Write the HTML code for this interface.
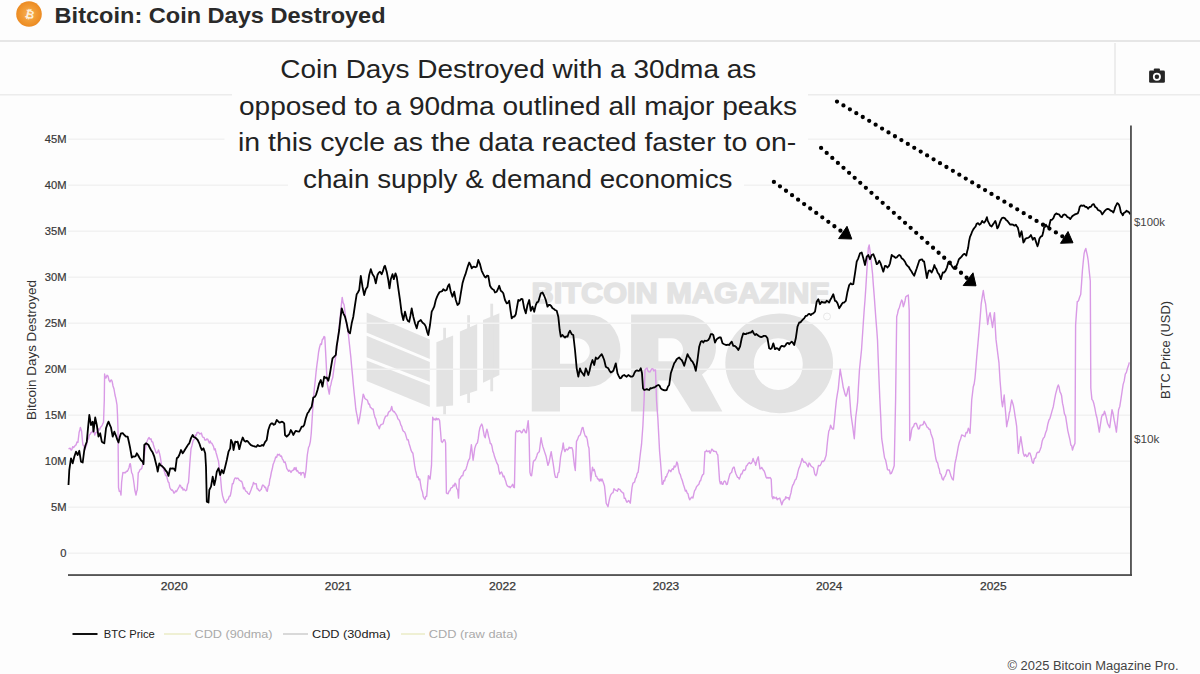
<!DOCTYPE html>
<html><head><meta charset="utf-8"><style>
html,body{margin:0;padding:0;background:#fdfdfd;width:1200px;height:674px;overflow:hidden}
svg{display:block;font-family:"Liberation Sans",sans-serif}
</style></head><body>
<svg width="1200" height="674" viewBox="0 0 1200 674">
<rect x="0" y="0" width="1200" height="674" fill="#fdfdfd"/>
<!-- header -->
<rect x="0" y="0" width="1200" height="40" fill="#fdfdfd"/>
<rect x="0" y="40" width="1200" height="2" fill="#e6e6e6"/>
<defs><radialGradient id="bg1" cx="50%" cy="50%" r="50%"><stop offset="0" stop-color="#f7b25a"/><stop offset="0.6" stop-color="#f19a33"/><stop offset="1" stop-color="#ec8b22"/></radialGradient></defs>
<circle cx="29" cy="14" r="12.8" fill="url(#bg1)"/>
<text x="0" y="0" transform="translate(28.7,18.2) rotate(14)" font-size="11.5" font-weight="700" fill="#fdf1de" text-anchor="middle">&#x20BF;</text>
<text x="54.6" y="22.5" font-size="22.4" font-weight="700" fill="#2a2a2a" textLength="331" lengthAdjust="spacingAndGlyphs">Bitcoin: Coin Days Destroyed</text>
<!-- toolbar -->
<rect x="1114" y="43" width="2" height="52" fill="#ededed"/>
<rect x="0" y="94" width="1200" height="1.5" fill="#ececec"/>
<g fill="#262626">
<rect x="1149.1" y="70.6" width="15.8" height="12.2" rx="1.4"/>
<rect x="1153.9" y="68.4" width="6" height="3" rx="0.8"/>
</g>
<circle cx="1156.9" cy="76.8" r="4" fill="#fff"/>
<circle cx="1156.9" cy="76.8" r="2.2" fill="#262626"/>

<!-- WATERMARK -->
<g id="wm">
<g fill="#e3e3e3">
<polygon points="366.6,312.6 429.8,339.6 429.8,359 366.6,332.4"/>
<polygon points="366.6,335.8 429.8,362 429.8,381.7 366.6,357.2"/>
<polygon points="366.6,360.4 429.8,385.2 429.8,406.9 366.6,381"/>
<polygon points="436.4,342.2 453.1,335.5 453.1,405.5 436.4,406.8"/>
<rect x="443.2" y="327.8" width="2.8" height="86.7"/>
<polygon points="459.9,331.6 477.2,323.9 477.2,390.4 459.9,396.2"/>
<rect x="467.2" y="315.2" width="2.8" height="87.7"/>
<polygon points="483,320 499.4,313.3 499.4,375 483,382.7"/>
<rect x="490.3" y="303.7" width="2.8" height="87.6"/>
<text x="531.5" y="303" font-size="29.5" font-weight="700" stroke="#e3e3e3" stroke-width="1.6" stroke-linejoin="round" textLength="298.5" lengthAdjust="spacingAndGlyphs">BITCOIN MAGAZINE</text>
<path fill-rule="evenodd" d="M531.8,314.4 H588 A32.5,36.25 0 0 1 588,386.9 H560 V411.5 H531.8 Z M560,338.3 H577 A12.8,12.75 0 0 1 577,363.8 H560 Z"/>
<path fill-rule="evenodd" d="M631.1,314.4 H683 A32.5,33 0 0 1 702,374.5 L722.3,411.5 H691.5 L672,380.4 H658.4 V411.5 H631.1 Z M658.4,338.3 H671.5 A11.5,11.5 0 0 1 671.5,361.3 H658.4 Z"/>
<path fill-rule="evenodd" d="M725.3,363.3 A53.9,49.9 0 1 0 833.1,363.3 A53.9,49.9 0 1 0 725.3,363.3 Z M753.8,364.1 A24.5,25.8 0 1 0 802.8,364.1 A24.5,25.8 0 1 0 753.8,364.1 Z"/>
<circle cx="827" cy="316.5" r="3.5" fill="none" stroke="#e8e8e8" stroke-width="1"/>
</g>
</g>
<!-- gridlines -->
<g id="grid" fill="#f2f2f2">
<rect x="68" y="138.5" width="1062" height="1.5"/>
<rect x="68" y="184.5" width="1062" height="1.5"/>
<rect x="68" y="230.5" width="1062" height="1.5"/>
<rect x="68" y="276.5" width="1062" height="1.5"/>
<rect x="68" y="322.5" width="1062" height="1.5"/>
<rect x="68" y="368.5" width="1062" height="1.5"/>
<rect x="68" y="414.5" width="1062" height="1.5"/>
<rect x="68" y="460.5" width="1062" height="1.5"/>
<rect x="68" y="506.5" width="1062" height="1.5"/>
<rect x="68" y="552.5" width="1062" height="1.5"/>
</g>


<!-- TRACES -->
<g id="traces">
<polyline points="68.5,448.8 69.3,448.5 70.2,448.2 71.0,450.0 71.8,449.8 72.7,446.6 73.5,447.5 74.3,446.8 75.2,445.3 76.0,445.0 77.0,442.0 77.9,442.5 79.1,432.5 79.8,430.0 80.4,427.5 81.6,431.3 82.2,438.1 82.9,445.0 83.8,445.6 84.8,450.0 85.7,447.2 86.6,445.0 87.5,440.2 88.5,438.8 89.3,435.1 90.2,434.3 91.0,432.5 92.0,432.6 92.9,430.0 93.8,431.0 94.8,435.0 95.7,432.6 96.6,432.5 97.5,431.2 98.5,428.8 99.5,429.9 100.4,427.5 101.3,426.6 102.3,425.0 102.9,423.3 103.5,422.5 104.3,400.0 104.6,374.0 105.3,377.9 106.0,378.0 107.0,375.2 108.0,376.0 109.0,380.4 110.0,382.0 110.8,380.2 111.5,380.0 112.2,381.6 113.0,386.0 114.0,389.0 115.0,395.0 116.0,399.2 117.0,405.0 117.5,415.0 118.0,430.0 118.5,487.5 119.3,491.3 120.2,491.2 121.0,495.0 121.6,482.5 122.2,477.5 122.9,472.5 123.8,472.8 124.8,472.5 125.6,472.7 126.5,471.2 127.3,471.3 128.2,469.6 129.1,467.5 129.8,463.9 130.4,463.8 131.6,472.5 132.6,474.5 133.5,480.0 134.2,485.0 134.8,490.0 136.0,495.0 136.7,491.3 137.3,490.0 138.3,472.5 139.1,472.0 139.8,470.0 140.7,469.1 141.6,468.8 142.6,464.9 143.5,462.5 144.2,456.9 144.8,451.3 145.7,447.2 146.6,442.5 147.4,440.6 148.3,438.4 149.1,437.5 150.1,439.3 151.0,438.8 151.8,441.7 152.7,441.9 153.5,445.0 154.3,447.8 155.2,450.1 156.0,452.5 156.8,453.2 157.7,451.8 158.5,450.0 159.4,452.9 160.4,457.5 161.4,464.4 162.3,467.5 163.1,467.6 164.0,470.5 164.8,472.5 165.6,475.6 166.5,475.3 167.3,478.8 168.1,481.7 169.0,482.8 169.8,487.5 170.6,489.0 171.5,490.2 172.3,490.0 173.1,491.1 174.0,493.2 174.8,492.5 175.6,490.9 176.5,491.6 177.3,490.0 178.1,488.7 179.0,487.0 179.8,485.0 180.6,485.7 181.5,488.0 182.3,487.5 183.1,490.1 184.0,489.1 184.8,490.0 185.7,490.7 186.6,490.0 187.6,484.5 188.5,482.5 189.2,473.1 189.8,463.8 191.0,448.8 191.9,445.9 192.9,441.3 193.7,439.8 194.6,439.1 195.4,435.0 196.2,435.5 197.1,432.5 197.9,432.5 198.7,432.5 199.6,434.0 200.4,433.8 201.4,433.1 202.3,436.3 203.1,437.4 204.0,437.4 204.8,440.0 206.0,440.0 206.8,438.9 207.7,439.1 208.5,441.3 209.3,443.0 210.2,441.0 211.0,443.1 211.8,443.2 212.7,444.8 213.5,446.3 214.3,449.9 215.2,448.8 216.0,452.5 216.8,455.2 217.7,458.6 218.5,461.3 219.4,468.8 220.4,476.3 221.6,490.0 222.6,495.9 223.5,498.8 224.3,501.3 225.2,502.7 226.0,502.5 226.8,500.4 227.7,499.7 228.5,498.8 229.3,496.1 230.2,496.1 231.0,492.5 231.7,488.1 232.3,483.8 233.2,483.7 234.1,480.0 234.9,478.2 235.8,477.9 236.6,478.8 237.4,478.1 238.3,478.5 239.1,480.0 239.9,480.4 240.8,481.2 241.6,481.3 242.6,484.1 243.5,488.8 244.3,487.6 245.2,490.1 246.0,491.3 246.8,491.6 247.7,493.2 248.5,493.8 249.3,494.3 250.2,492.0 251.0,490.0 251.8,487.6 252.7,485.5 253.5,482.5 254.4,483.9 255.4,483.8 256.2,483.7 257.1,488.7 257.9,488.8 258.7,490.3 259.6,491.1 260.4,490.0 261.2,489.5 262.1,486.2 262.9,485.0 263.9,485.8 264.8,487.5 265.6,487.2 266.5,490.6 267.3,491.3 268.2,486.4 269.1,485.0 269.8,479.5 270.4,477.5 271.4,472.0 272.3,468.8 273.1,464.5 274.0,462.3 274.8,460.0 275.7,457.0 276.6,457.5 277.6,454.3 278.5,455.0 279.4,454.3 280.4,456.3 281.4,456.0 282.3,458.8 283.2,460.1 284.1,462.5 285.1,461.9 286.0,465.0 286.8,468.6 287.7,469.7 288.5,471.3 289.3,470.3 290.2,471.1 291.0,472.5 291.8,471.1 292.7,470.3 293.5,470.0 294.3,467.7 295.2,469.7 296.0,467.5 296.8,471.1 297.7,470.7 298.5,472.5 299.3,473.3 300.2,472.5 301.0,475.0 301.8,472.6 302.7,472.7 303.5,472.5 304.1,474.1 304.8,477.5 306.0,470.0 306.6,462.5 307.3,455.0 308.5,447.5 309.4,445.7 310.4,441.3 311.2,433.8 312.0,421.4 312.8,409.0 313.6,396.6 314.4,388.3 315.3,380.1 316.1,371.8 316.9,365.2 317.8,358.6 318.6,352.0 319.5,347.5 320.5,343.9 321.4,344.5 322.3,339.6 323.1,338.9 324.0,336.5 324.8,337.1 326.0,359.4 326.6,371.8 327.3,384.2 328.3,389.3 329.3,394.1 330.1,387.3 331.0,384.2 331.8,380.2 332.7,377.8 333.5,371.8 334.3,366.0 335.2,360.2 336.0,354.4 337.2,344.5 338.4,334.6 339.2,326.3 340.1,318.1 340.9,309.8 341.5,303.6 342.2,297.4 343.1,302.6 344.1,304.8 345.0,312.2 345.9,319.7 346.7,325.5 347.6,328.7 348.4,334.6 349.2,342.0 350.0,349.5 350.8,356.9 351.6,366.0 352.5,375.1 353.3,384.2 354.1,392.5 355.0,400.7 355.8,409.0 356.6,413.4 357.5,417.6 358.3,423.9 359.5,418.8 360.7,411.5 361.5,405.7 362.4,399.9 363.2,394.1 364.0,395.9 364.9,398.5 365.7,399.1 366.6,399.6 367.5,400.4 368.5,404.0 369.4,404.0 370.3,407.2 371.2,407.9 372.2,409.0 373.1,409.0 374.1,414.0 375.0,417.4 375.9,419.1 376.9,423.9 377.7,425.6 378.5,426.6 379.3,428.8 380.2,425.7 381.2,424.5 382.2,424.2 383.1,423.9 384.3,419.2 385.5,416.4 386.4,415.9 387.4,415.8 388.4,412.5 389.3,411.5 390.5,410.7 391.7,406.5 392.5,410.1 393.4,411.7 394.2,411.5 395.1,412.8 396.0,414.1 397.0,416.0 397.9,418.9 398.8,419.5 399.8,421.4 400.8,424.9 401.7,426.3 402.6,429.8 403.5,431.4 404.5,431.8 405.4,433.8 406.3,436.9 407.2,439.9 408.2,439.6 409.1,443.7 410.1,446.7 411.0,450.1 411.9,452.0 412.9,453.3 413.8,459.4 414.6,465.4 415.5,470.4 416.3,473.3 417.2,477.4 418.1,476.7 418.9,479.7 419.8,479.1 420.6,484.3 421.5,489.5 422.4,491.7 423.2,496.4 424.1,498.1 425.0,499.4 425.8,496.5 426.7,496.3 427.5,486.0 428.4,475.7 429.2,477.0 430.1,479.1 430.8,472.2 431.5,465.4 432.7,417.2 433.5,419.8 434.4,418.9 435.3,420.1 436.1,418.2 437.0,419.8 437.9,418.6 438.7,418.9 439.6,420.6 440.5,431.0 441.3,441.3 442.2,442.4 443.0,441.4 443.9,439.6 444.8,439.9 445.6,443.0 446.4,492.9 447.3,493.6 448.1,493.7 449.0,491.2 449.9,490.7 450.7,488.3 451.6,487.7 452.5,487.3 453.3,485.1 454.2,486.0 455.0,483.2 455.9,484.3 456.8,488.8 457.6,489.5 458.5,498.1 459.3,479.1 460.2,478.6 461.0,476.9 461.9,475.7 462.8,475.7 463.6,472.0 464.5,470.5 465.4,470.3 466.2,468.4 467.1,465.4 468.0,461.9 468.8,459.8 469.7,458.5 470.5,451.6 471.4,444.7 472.2,452.4 473.1,460.2 474.0,454.2 474.8,448.2 475.7,445.6 476.5,443.7 477.4,443.0 478.3,438.2 479.1,431.7 480.0,427.5 480.9,425.5 481.7,424.1 482.5,426.1 483.4,431.0 484.3,436.0 485.2,437.8 486.0,432.9 486.9,429.2 487.8,432.5 488.6,436.5 489.5,439.6 490.3,443.5 491.2,443.8 492.0,446.4 492.9,451.5 493.7,453.3 494.6,456.8 495.5,459.2 496.3,461.5 497.2,463.7 498.1,465.2 498.9,470.3 499.8,474.0 500.7,472.7 501.5,472.0 502.4,474.0 503.2,476.9 504.1,476.1 504.9,479.1 505.8,481.3 506.6,484.6 507.5,486.0 508.4,486.8 509.2,486.4 510.1,487.7 511.0,486.6 511.8,485.7 512.7,484.3 513.5,487.1 514.4,487.7 515.0,460.2 515.6,432.7 516.6,430.6 517.7,431.8 518.7,431.0 519.6,430.6 520.4,431.2 521.3,432.7 522.2,432.6 523.0,430.4 523.9,429.2 524.7,430.6 525.6,432.6 526.4,432.7 527.3,426.6 528.2,420.6 529.0,432.7 529.9,472.3 530.8,475.6 531.6,475.7 532.5,468.8 533.3,461.9 534.2,460.5 535.0,460.1 535.9,458.5 536.8,455.9 537.6,453.3 538.5,452.5 539.3,451.6 540.2,444.7 541.1,437.8 542.0,442.9 542.8,446.4 543.6,448.8 544.5,451.6 545.4,454.3 546.2,456.8 547.0,461.0 547.9,465.4 549.0,462.6 550.1,457.0 551.2,451.6 552.0,456.8 552.9,461.9 553.8,467.9 554.6,474.0 555.5,477.2 556.3,477.4 557.2,477.5 558.0,473.0 558.9,472.3 559.8,464.6 560.6,456.8 561.5,452.4 562.3,449.4 563.2,443.0 564.0,448.7 564.9,451.6 565.8,449.6 566.6,449.0 567.5,449.9 568.4,449.1 569.2,447.1 570.1,448.2 571.0,447.7 571.8,447.6 572.7,449.9 573.5,457.6 574.4,465.4 575.3,470.5 575.9,455.9 576.5,441.3 577.6,439.4 578.7,436.1 579.6,435.5 580.4,434.3 581.3,431.0 582.1,427.9 583.0,427.5 583.9,431.8 584.7,434.4 585.6,436.8 586.4,436.4 587.3,439.6 588.1,445.4 589.0,448.2 589.9,465.4 590.7,480.9 591.6,474.0 592.5,467.1 593.3,470.7 594.2,469.4 595.0,472.3 595.9,476.4 596.7,476.4 597.6,479.1 598.5,479.0 599.3,481.1 600.2,479.1 601.1,481.0 601.9,478.9 602.8,480.9 603.6,483.2 604.5,486.0 605.4,494.6 606.2,503.2 607.1,505.0 608.0,506.7 608.9,501.8 609.7,498.1 610.6,495.1 611.4,493.9 612.3,492.9 613.1,492.7 614.0,488.7 614.8,489.5 615.7,490.3 616.5,490.4 617.4,491.2 618.3,488.7 619.1,489.4 620.0,489.5 620.9,491.1 621.7,491.8 622.6,492.9 623.5,492.9 624.3,498.3 625.2,498.1 626.0,500.4 626.9,502.3 627.7,501.5 628.6,500.5 629.4,501.7 630.3,503.2 631.1,495.4 632.0,487.7 632.9,483.3 633.8,482.6 634.6,482.0 635.5,478.2 636.3,477.4 637.2,473.4 638.1,472.3 639.0,465.4 639.8,458.5 640.6,451.6 641.5,444.7 642.2,435.2 642.9,425.8 643.5,412.9 644.1,400.0 645.0,370.0 646.0,368.7 647.0,368.0 648.0,371.0 649.0,371.9 650.0,372.0 651.0,370.0 652.0,368.6 653.0,369.0 653.8,371.0 654.7,369.9 655.5,370.0 656.5,400.0 657.1,408.6 657.8,417.2 658.7,434.4 659.6,451.6 660.5,462.0 661.3,472.3 662.1,484.3 663.0,484.0 663.8,480.4 664.7,480.9 665.6,476.8 666.4,477.1 667.3,474.0 668.2,472.5 669.0,470.0 669.9,470.5 670.8,471.7 671.6,469.9 672.5,468.8 673.3,469.4 674.2,466.0 675.0,467.1 675.9,465.9 676.8,461.9 677.6,463.6 678.5,468.8 679.4,473.1 680.2,474.3 681.1,477.4 682.2,480.2 683.4,484.5 684.5,487.7 685.4,491.1 686.2,490.2 687.1,492.9 688.0,493.7 688.8,497.6 689.7,499.8 690.8,498.2 691.8,497.1 692.9,498.1 693.8,493.9 694.6,490.6 695.5,489.5 696.6,486.6 697.8,485.3 698.9,484.3 699.8,481.2 700.6,480.7 701.5,477.4 702.6,474.9 703.7,474.0 704.9,451.6 705.8,451.6 706.6,450.3 707.5,451.6 708.4,451.6 709.2,450.8 710.1,453.3 711.0,451.2 711.8,449.1 712.7,449.9 713.6,451.4 714.4,451.2 715.3,451.6 716.1,451.5 717.0,453.8 717.8,455.0 718.7,467.9 719.6,480.9 720.4,483.8 721.3,481.6 722.1,484.3 723.0,484.4 723.8,481.8 724.7,480.9 725.6,482.0 726.4,484.5 727.3,484.3 728.2,480.4 729.0,477.5 729.9,474.0 730.8,473.0 731.6,472.5 732.5,468.8 733.4,467.3 734.2,467.1 735.1,471.3 735.9,473.7 736.8,475.7 737.6,477.4 738.5,477.6 739.3,479.1 740.2,476.8 741.0,473.9 741.9,474.0 742.8,471.4 743.6,469.9 744.5,470.5 745.4,469.8 746.2,466.1 747.1,465.4 748.2,463.5 749.4,462.6 750.5,463.7 751.4,463.3 752.2,461.7 753.1,458.5 754.0,461.5 754.8,462.2 755.7,465.4 756.6,461.5 757.4,458.8 758.3,456.8 759.1,462.8 760.0,468.8 760.9,468.6 761.7,467.4 762.6,468.8 763.5,470.3 764.3,471.3 765.2,474.0 766.0,477.0 766.9,478.2 767.7,477.4 768.9,478.2 770.0,477.5 771.2,479.1 772.0,496.3 772.9,498.8 773.7,496.7 774.6,498.1 775.5,498.1 776.3,497.2 777.2,499.8 778.1,498.8 778.9,498.6 779.8,498.1 780.8,501.5 781.8,504.9 783.0,501.2 784.1,499.8 785.0,499.3 785.8,496.7 786.7,498.1 787.5,497.7 788.4,497.6 789.2,499.8 790.1,495.9 791.0,492.9 791.8,488.2 792.7,485.3 793.5,484.3 794.4,481.8 795.2,479.8 796.1,479.1 797.0,476.0 797.8,472.4 798.7,468.8 799.8,466.4 801.0,462.6 802.1,458.5 803.0,460.5 803.8,462.3 804.7,461.9 805.6,462.6 806.4,463.5 807.3,465.4 808.2,466.8 809.0,462.9 809.9,463.7 810.8,465.7 811.6,466.5 812.5,467.1 813.6,468.1 814.8,474.2 815.9,475.7 816.8,473.8 817.6,469.3 818.5,465.4 819.4,465.8 820.2,465.5 821.1,463.7 822.2,461.1 823.4,461.5 824.5,460.2 825.4,457.6 826.2,455.0 827.0,446.4 827.9,437.8 828.8,431.0 829.7,429.4 830.6,425.2 831.6,427.7 832.5,429.1 833.5,429.1 834.5,419.4 835.4,409.8 836.4,400.1 837.3,394.4 838.3,388.6 839.2,379.0 840.2,369.3 841.2,375.4 842.2,380.9 843.2,387.3 844.1,390.5 845.0,394.1 846.0,396.3 847.0,393.8 847.9,388.8 848.9,386.6 849.9,400.1 850.9,413.6 851.8,420.4 852.8,427.1 853.5,432.9 854.3,438.7 855.0,428.1 855.7,417.5 856.7,409.8 857.6,402.1 858.5,385.7 859.5,369.3 860.5,359.6 861.5,350.0 862.5,335.0 863.5,320.0 864.2,310.0 865.0,300.0 865.9,286.6 866.7,273.3 867.5,260.8 868.3,248.3 869.2,245.0 869.9,250.0 870.5,255.0 871.5,264.1 872.5,273.3 873.3,284.4 874.2,295.6 875.0,306.7 875.8,317.8 876.7,328.9 877.5,340.0 878.6,369.1 879.8,398.2 880.8,418.4 881.7,438.7 882.7,445.1 883.6,451.6 884.6,458.0 885.6,460.0 886.5,464.3 887.5,469.6 888.5,470.0 889.4,469.9 890.3,473.8 891.3,473.4 892.3,471.1 893.2,468.8 894.2,465.7 894.9,432.9 895.6,400.0 896.7,316.7 897.5,313.9 898.3,310.0 899.4,307.4 900.6,303.3 901.7,300.0 902.5,301.4 903.3,306.7 904.1,304.6 905.0,301.0 905.8,296.7 906.6,296.1 907.5,295.7 908.3,295.0 909.2,310.0 909.7,440.6 910.7,436.7 911.6,429.9 912.6,427.1 913.5,426.8 914.5,423.6 915.4,423.3 916.4,423.5 917.3,426.2 918.3,429.1 919.3,428.7 920.2,425.3 921.2,425.2 922.2,424.9 923.1,424.5 924.1,421.3 925.1,423.2 926.0,424.7 927.0,427.1 928.0,427.7 928.9,429.2 929.9,429.1 930.9,433.4 931.8,436.0 932.8,438.7 933.8,445.1 934.7,451.6 935.7,458.0 936.7,461.8 937.6,462.7 938.6,467.6 939.3,469.0 940.0,473.3 941.1,474.5 942.2,478.7 943.3,480.0 944.2,477.2 945.1,476.3 946.0,474.0 947.1,470.0 948.3,470.0 949.2,470.2 950.1,473.1 951.0,476.0 952.1,478.7 953.3,480.0 954.1,471.6 955.0,463.3 956.1,458.5 957.2,452.9 958.3,446.7 959.4,442.0 960.6,439.0 961.7,435.0 962.8,435.4 963.9,436.0 965.0,436.7 966.1,432.4 967.2,432.7 968.3,428.3 969.1,429.6 970.0,433.3 970.9,416.6 971.7,400.0 972.5,393.4 973.3,386.7 974.1,384.3 975.0,378.0 975.9,367.6 976.7,357.2 976.7,357.2 977.9,343.9 979.1,330.5 980.2,317.1 981.2,303.8 982.2,297.1 983.3,290.5 984.5,298.9 985.6,303.8 986.7,314.1 987.7,324.5 988.9,316.7 990.1,312.7 991.3,320.1 992.5,327.5 993.5,320.1 994.5,312.7 995.2,326.0 996.0,339.4 997.0,347.3 998.0,355.3 999.0,363.2 1000.0,380.0 1000.9,390.9 1001.7,401.7 1002.5,406.7 1003.4,400.9 1004.2,395.0 1005.0,405.6 1005.9,416.1 1006.7,426.7 1007.5,422.1 1008.4,419.0 1009.2,413.3 1010.0,410.7 1010.9,404.2 1011.7,400.0 1012.5,402.4 1013.4,405.5 1014.2,410.0 1015.0,415.6 1015.9,421.1 1016.7,426.7 1017.5,440.0 1018.3,453.3 1019.1,447.8 1020.0,442.2 1020.8,436.7 1021.6,442.2 1022.5,447.8 1023.3,453.3 1024.4,456.2 1025.6,454.4 1026.7,456.7 1027.8,455.9 1028.9,453.0 1030.0,453.3 1031.1,456.7 1032.2,461.8 1033.3,463.3 1034.4,458.5 1035.6,457.9 1036.7,453.3 1037.8,452.2 1038.9,452.6 1040.0,450.0 1041.1,446.9 1042.2,441.1 1043.3,438.3 1044.4,437.1 1045.6,432.7 1046.7,430.0 1047.8,424.2 1048.9,420.2 1050.0,418.3 1051.1,414.4 1052.2,410.4 1053.3,406.7 1054.4,400.3 1055.6,394.1 1056.7,390.0 1057.5,386.9 1058.3,385.0 1059.1,387.0 1060.0,391.9 1060.8,393.3 1061.6,395.8 1062.5,403.2 1063.3,406.7 1064.4,413.6 1065.6,416.2 1066.7,423.3 1067.8,430.6 1068.9,435.3 1070.0,440.0 1070.8,444.9 1071.7,445.8 1072.5,450.0 1073.3,447.3 1074.2,445.1 1075.0,443.3 1075.6,325.3 1075.6,325.3 1076.4,313.4 1077.3,301.4 1078.4,301.1 1079.6,297.2 1080.7,294.6 1081.6,282.6 1082.4,270.7 1083.2,262.2 1084.1,253.7 1084.9,250.5 1085.8,248.5 1086.6,252.2 1087.4,255.6 1088.2,260.5 1089.2,270.8 1090.3,281.0 1090.8,388.0 1091.9,399.4 1092.9,400.6 1093.9,403.8 1094.9,408.4 1096.0,414.5 1097.0,418.0 1098.2,425.1 1099.3,432.1 1100.4,424.7 1101.5,417.3 1102.5,414.4 1103.5,415.0 1104.5,411.3 1105.5,414.3 1106.5,418.3 1107.5,423.2 1108.6,425.5 1109.7,427.7 1110.8,418.8 1112.0,409.8 1113.1,413.8 1114.2,420.2 1115.3,425.6 1116.4,432.1 1117.5,421.0 1118.6,409.8 1119.8,406.4 1120.9,399.4 1122.0,392.0 1123.1,384.6 1124.2,380.9 1125.3,374.2 1126.4,372.4 1127.5,368.2 1128.4,365.8 1129.3,362.3" fill="none" stroke="#d99ae6" stroke-width="1.4" stroke-linejoin="round"/>
<polyline points="68.5,485.0 69.3,470.0 71.0,458.3 72.7,463.3 74.3,456.7 76.0,451.7 77.7,455.0 79.3,450.8 81.0,461.7 82.7,462.5 84.3,450.0 85.5,445.3 86.8,441.7 88.0,428.4 89.3,415.0 91.0,425.0 92.7,421.7 93.5,431.7 95.2,417.5 96.8,425.0 98.5,436.7 100.2,433.3 101.8,441.7 103.0,442.6 104.3,443.3 106.0,428.3 107.2,424.7 108.5,421.7 109.8,424.8 111.0,427.5 112.7,436.7 114.3,431.7 116.0,435.8 117.2,439.4 118.5,442.5 119.8,436.9 121.0,433.3 122.7,433.1 124.3,435.0 126.0,436.6 127.7,436.7 128.9,442.0 130.2,448.3 131.8,457.5 133.1,456.5 134.3,456.7 135.6,456.1 136.8,453.3 138.1,455.3 139.3,457.5 141.0,460.3 142.7,461.7 143.5,464.2 144.3,445.0 146.0,443.3 147.2,444.1 148.5,445.0 149.8,447.8 151.0,450.0 152.7,452.6 154.3,456.7 155.6,462.0 156.8,466.7 157.7,471.7 159.3,463.3 160.6,465.4 161.8,465.8 163.1,467.1 164.3,468.3 165.6,470.5 166.8,471.7 168.5,475.8 170.2,468.3 171.4,468.7 172.7,468.3 173.9,468.6 175.2,470.8 176.8,458.3 178.1,457.2 179.3,455.0 181.0,450.0 182.7,453.3 183.9,451.5 185.2,449.2 186.8,446.7 188.1,444.6 189.3,443.3 191.0,438.1 192.7,435.0 193.9,437.1 195.2,437.5 196.4,438.7 197.7,440.0 199.3,443.3 200.6,447.1 201.8,450.0 203.5,448.3 205.2,453.3 206.0,466.7 206.8,501.7 208.5,502.5 209.3,490.0 211.0,486.7 212.7,476.7 214.3,485.0 215.6,479.2 216.8,471.7 218.5,468.3 220.2,475.0 221.8,470.0 223.5,473.3 225.2,466.7 226.8,460.0 228.5,451.7 230.2,448.3 231.0,440.0 232.7,443.3 233.5,450.0 235.2,441.7 236.4,442.2 237.7,441.7 239.3,449.2 241.0,442.5 242.7,437.5 244.3,440.8 245.6,441.7 246.8,440.8 248.1,441.8 249.3,443.3 251.0,445.2 252.7,445.8 253.9,446.1 255.2,446.7 256.4,446.8 257.7,445.0 259.4,446.2 261.0,445.8 262.1,444.9 263.3,445.8 265.0,442.1 266.7,440.0 268.3,430.0 270.0,425.0 271.2,423.5 272.5,423.3 273.8,424.8 275.0,424.2 276.7,420.0 277.9,421.1 279.2,422.5 280.4,422.4 281.7,421.7 282.9,422.1 284.2,423.3 285.0,435.0 286.7,436.7 287.9,435.5 289.2,434.2 290.8,430.0 292.1,432.2 293.3,435.0 294.6,432.6 295.8,430.8 297.5,431.4 299.2,431.7 300.4,429.4 301.7,426.7 302.9,426.7 304.2,425.0 305.8,418.3 307.5,413.3 308.8,411.7 310.0,409.2 311.7,406.7 313.3,397.5 315.0,396.7 316.2,394.3 317.5,390.0 319.2,383.3 320.8,380.0 322.5,386.7 324.2,376.7 325.4,377.9 326.7,377.5 328.3,380.8 329.6,375.6 330.8,368.3 332.5,358.3 334.2,356.7 335.8,355.0 336.6,346.7 337.9,338.4 339.2,330.0 340.4,319.1 341.7,308.3 343.3,313.3 345.0,316.7 346.7,323.3 348.3,331.7 350.0,333.3 351.7,323.3 353.3,316.7 355.0,305.0 356.7,294.2 357.9,292.5 359.2,290.0 360.8,275.8 362.5,286.7 364.2,295.0 365.8,289.2 367.5,286.7 369.2,275.0 370.8,269.2 372.5,274.2 374.2,276.7 375.8,283.3 377.5,275.0 378.8,272.6 380.0,271.7 381.7,274.2 382.9,271.2 384.2,266.7 385.0,265.8 386.7,271.7 388.3,280.0 389.5,288.3 390.8,279.2 392.5,274.2 393.8,279.2 395.5,273.3 396.7,276.7 398.3,288.3 400.0,300.0 401.7,313.3 403.3,320.0 405.0,311.7 406.7,318.3 407.9,321.0 409.2,321.7 410.4,315.9 411.7,308.3 413.3,316.7 415.0,323.3 416.7,328.3 418.3,321.7 419.6,321.0 420.8,320.0 422.1,322.1 423.3,323.3 424.6,324.4 425.8,326.7 427.1,331.6 428.3,335.0 430.0,325.0 431.7,311.7 432.9,309.4 434.2,306.7 435.8,300.0 437.1,296.6 438.3,294.2 439.6,292.0 440.8,291.7 442.1,291.2 443.3,289.2 445.0,290.7 446.7,290.0 447.9,286.2 449.2,284.2 450.8,291.7 452.5,296.7 454.2,291.7 455.8,300.0 457.5,305.0 459.2,303.3 460.8,293.3 462.5,283.3 464.2,277.5 465.4,274.4 466.7,270.0 467.9,266.1 469.2,262.5 470.4,264.6 471.7,268.3 472.9,267.0 474.2,266.7 475.4,267.3 476.7,266.7 478.3,260.0 480.0,264.2 481.7,270.8 483.3,274.2 484.6,276.7 485.8,277.5 487.1,275.6 488.3,275.8 490.0,285.8 491.2,287.8 492.5,289.2 493.8,289.8 495.0,292.5 496.7,291.7 497.9,289.2 499.2,285.8 500.8,290.8 502.1,291.7 503.3,293.3 505.0,300.0 506.7,303.3 507.9,302.9 509.2,300.8 510.4,309.6 511.7,318.3 513.3,316.7 514.5,316.5 515.8,314.2 517.0,307.1 518.3,300.0 519.7,300.8 521.1,299.0 522.5,299.2 524.2,308.3 525.8,313.3 527.5,305.0 529.2,300.0 530.8,310.8 532.5,306.7 534.2,311.7 535.8,305.0 537.0,302.4 538.3,301.7 539.5,297.7 540.8,293.3 542.5,292.5 544.2,295.8 545.8,300.0 547.5,306.7 548.8,304.8 550.0,305.0 551.2,306.0 552.5,308.3 553.8,308.9 555.0,310.0 556.7,310.8 558.3,316.7 559.7,330.0 560.8,336.7 562.5,335.0 563.8,336.5 565.0,337.5 566.2,336.3 567.5,336.7 568.8,332.7 570.0,330.8 571.7,334.2 573.3,335.0 575.0,350.0 576.7,368.3 578.3,376.7 580.0,368.3 581.2,371.6 582.5,373.3 584.2,375.8 585.8,368.3 587.0,371.2 588.3,375.0 589.5,371.0 590.8,365.0 592.5,360.0 594.2,365.0 595.8,357.5 597.0,358.8 598.3,358.3 600.0,356.0 601.7,354.2 603.0,357.0 604.2,360.0 605.8,366.7 607.0,367.5 608.3,368.3 609.5,370.7 610.8,372.5 612.0,371.9 613.3,370.8 614.5,367.2 615.8,363.3 617.5,373.3 618.8,376.1 620.0,378.3 621.2,378.0 622.5,375.8 624.2,375.0 625.5,375.9 626.7,376.7 628.3,375.0 629.5,375.7 630.8,376.7 632.0,376.7 633.3,375.8 634.5,372.7 635.8,370.8 637.0,370.4 638.3,370.8 639.5,370.6 640.8,368.3 642.0,373.3 643.0,388.3 644.2,390.0 645.5,389.6 646.7,389.2 648.0,389.7 649.2,390.0 650.5,388.1 651.7,388.3 653.0,387.7 654.2,387.5 655.5,386.8 656.7,385.8 658.3,385.0 659.5,385.6 660.8,388.3 662.0,389.4 663.3,390.0 665.0,390.3 666.7,390.0 668.0,386.5 669.2,385.0 670.8,373.3 672.5,368.3 674.2,363.3 675.5,361.5 676.7,359.2 678.0,358.3 679.2,357.5 680.5,359.1 681.7,360.0 683.0,362.6 684.2,365.8 685.8,360.0 687.5,354.2 688.8,356.7 690.0,358.3 691.2,360.5 692.5,361.7 694.2,365.0 695.8,370.8 697.5,360.0 699.2,346.7 700.8,341.7 702.0,341.0 703.3,342.5 704.5,340.7 705.8,340.8 707.0,340.8 708.3,340.0 709.5,338.1 710.8,334.2 712.0,334.1 713.3,335.0 715.0,342.5 716.7,339.2 718.0,338.3 719.2,337.5 720.8,337.5 722.5,343.3 724.2,344.2 725.5,344.8 726.7,345.0 728.0,344.6 729.2,345.0 730.5,343.1 731.7,341.7 733.3,345.8 734.5,345.8 735.8,346.7 737.0,348.1 738.3,350.0 740.0,346.7 741.7,338.3 743.3,333.3 744.5,334.0 745.8,334.2 747.0,333.3 748.3,333.3 749.5,332.6 750.8,332.5 752.5,330.8 753.8,333.5 755.0,335.0 756.2,334.0 757.5,335.0 758.8,336.0 760.0,336.7 761.2,337.2 762.5,336.7 763.8,335.8 765.0,335.8 766.2,336.4 767.5,338.3 769.2,348.3 770.5,349.0 771.7,348.3 773.3,343.3 775.0,349.2 776.2,348.2 777.5,348.3 779.2,350.0 780.5,347.2 781.7,345.8 783.0,346.1 784.2,346.7 785.5,345.4 786.7,343.3 788.0,342.9 789.2,344.2 790.5,342.6 791.7,341.7 793.0,343.0 794.2,345.0 795.8,338.3 797.5,326.7 799.2,322.5 800.5,322.4 801.7,320.8 803.0,319.4 804.2,318.3 805.8,315.8 807.0,315.8 808.3,314.2 809.5,313.9 810.8,315.0 812.0,313.8 813.3,313.3 815.0,311.7 816.7,301.7 818.3,299.2 820.0,304.2 821.7,301.7 823.0,302.4 824.2,302.5 825.5,302.5 826.7,300.8 828.0,301.5 829.2,302.5 830.5,299.4 831.7,297.5 833.3,294.2 835.0,300.8 836.2,301.2 837.5,303.3 839.2,308.3 840.5,306.3 841.7,304.2 843.0,302.7 844.2,302.5 845.8,300.8 847.5,291.7 849.2,285.0 850.8,283.3 852.0,284.4 853.3,284.2 855.0,273.3 856.7,261.7 858.3,258.3 860.0,253.3 861.7,252.5 863.3,258.3 865.0,265.0 866.7,256.7 868.3,255.0 870.0,259.2 871.7,255.0 873.3,254.2 875.0,258.3 876.7,264.2 878.0,263.2 879.2,260.8 880.5,263.1 881.7,266.7 883.3,271.7 885.0,265.8 886.2,266.2 887.5,267.5 888.8,266.1 890.0,263.3 891.7,255.0 893.0,256.2 894.2,256.7 895.5,257.8 896.7,257.5 898.0,255.9 899.2,255.0 900.5,255.8 901.7,258.3 903.4,259.5 905.0,261.7 906.2,264.4 907.5,265.8 908.8,267.0 910.0,269.2 911.2,270.9 912.5,273.3 914.2,275.8 915.4,272.1 916.6,268.8 918.0,264.4 919.4,260.3 920.8,259.7 922.2,259.4 923.2,261.3 924.1,261.3 925.5,269.7 926.9,278.1 927.8,273.6 928.8,270.6 930.2,270.5 931.6,272.5 933.0,269.7 934.4,265.0 935.3,267.7 936.3,268.8 937.7,272.7 939.1,274.4 940.9,279.1 941.8,275.7 942.8,272.5 944.2,272.5 945.6,270.6 947.0,267.3 948.4,262.2 949.8,263.0 951.3,265.0 952.7,267.4 954.1,268.8 955.5,267.6 956.9,265.0 957.8,262.6 958.8,259.4 960.2,258.0 961.6,256.6 963.0,254.7 964.4,253.8 965.3,254.4 966.3,255.6 967.2,251.3 968.1,248.1 969.0,241.5 970.0,236.9 971.0,234.7 971.9,232.2 973.3,229.4 974.7,227.5 975.7,226.3 976.6,223.8 978.0,223.2 979.4,224.7 980.8,223.7 982.2,220.9 983.2,222.3 984.1,222.8 985.5,220.9 986.9,217.2 987.8,220.9 988.8,222.8 990.2,225.6 991.6,226.6 993.4,223.8 994.3,222.5 995.3,220.9 996.2,223.6 997.2,228.4 998.2,227.1 999.1,224.7 1000.5,220.7 1001.9,218.1 1003.3,217.7 1004.7,218.1 1006.1,219.9 1007.5,220.9 1008.9,222.9 1010.3,224.7 1011.7,224.5 1013.1,224.7 1014.5,225.7 1015.9,224.7 1016.8,226.3 1017.8,227.5 1018.8,231.9 1019.7,236.9 1020.7,233.6 1021.6,231.3 1023.4,242.5 1024.3,241.4 1025.3,238.8 1026.7,238.2 1028.1,237.8 1029.5,237.0 1030.9,235.0 1031.8,237.0 1032.8,239.7 1033.8,238.1 1034.7,237.8 1036.1,242.1 1037.5,246.3 1038.5,243.2 1039.4,238.8 1040.8,236.6 1042.2,235.9 1043.2,232.3 1044.1,227.5 1045.0,227.0 1045.9,224.7 1047.3,226.8 1048.8,227.5 1050.6,220.0 1052.0,219.8 1053.4,218.1 1054.8,214.7 1056.3,213.4 1057.7,214.2 1059.1,214.4 1060.5,216.6 1061.9,217.2 1063.3,214.8 1064.7,214.4 1066.1,215.3 1067.5,217.2 1068.9,217.6 1070.3,219.1 1071.2,217.8 1072.2,216.3 1073.6,215.2 1075.0,214.4 1076.4,213.8 1077.8,213.4 1078.8,210.8 1079.7,206.9 1081.1,205.3 1082.5,205.9 1083.9,205.4 1085.3,206.9 1086.7,207.0 1088.1,208.8 1089.5,207.0 1090.9,206.9 1092.3,204.6 1093.8,204.1 1095.2,207.0 1096.6,207.8 1098.0,210.0 1099.4,210.6 1100.8,211.6 1102.2,214.4 1103.6,212.5 1105.0,210.6 1106.4,209.3 1107.8,208.8 1109.2,209.3 1110.6,210.6 1112.0,211.2 1113.4,212.5 1114.3,210.0 1115.3,206.9 1116.2,205.2 1117.2,203.1 1118.2,203.7 1119.1,205.0 1120.0,208.1 1120.9,212.5 1121.8,213.5 1122.8,215.3 1123.8,213.1 1124.7,212.5 1125.7,211.7 1126.6,210.6 1127.5,211.6 1128.4,211.6 1129.3,212.7 1130.3,214.4" fill="none" stroke="#000" stroke-width="1.8" stroke-linejoin="round"/>
</g>

<!-- axes -->
<rect x="68" y="574.2" width="1064" height="1.7" fill="#444"/>
<rect x="1130.1" y="125.5" width="1.7" height="450" fill="#444"/>

<!-- y labels left -->
<g font-size="11.2" fill="#383838" stroke="#383838" stroke-width="0.2" text-anchor="end">
<text x="66.5" y="143.3">45M</text>
<text x="66.5" y="189.3">40M</text>
<text x="66.5" y="235.3">35M</text>
<text x="66.5" y="281.3">30M</text>
<text x="66.5" y="327.3">25M</text>
<text x="66.5" y="373.3">20M</text>
<text x="66.5" y="419.3">15M</text>
<text x="66.5" y="465.3">10M</text>
<text x="66.5" y="511.3">5M</text>
<text x="66.5" y="557.3">0</text>
</g>
<text transform="translate(35.5,350) rotate(-90)" font-size="12" fill="#333" text-anchor="middle" textLength="140" lengthAdjust="spacingAndGlyphs">Bitcoin Days Destroyed</text>
<!-- right labels -->
<g font-size="11" fill="#444">
<text x="1134" y="226.4" textLength="31" lengthAdjust="spacingAndGlyphs">$100k</text>
<text x="1134" y="442.6" textLength="25.5" lengthAdjust="spacingAndGlyphs">$10k</text>
</g>
<text transform="translate(1169.5,350) rotate(-90)" font-size="12" fill="#333" text-anchor="middle" textLength="98" lengthAdjust="spacingAndGlyphs">BTC Price (USD)</text>
<!-- x labels -->
<g font-size="11.2" fill="#383838" stroke="#383838" stroke-width="0.25">
<text x="160.7" y="589.6" textLength="27" lengthAdjust="spacingAndGlyphs">2020</text>
<text x="324.8" y="589.6" textLength="26.5" lengthAdjust="spacingAndGlyphs">2021</text>
<text x="489" y="589.6" textLength="27" lengthAdjust="spacingAndGlyphs">2022</text>
<text x="652.7" y="589.6" textLength="26.5" lengthAdjust="spacingAndGlyphs">2023</text>
<text x="816" y="589.6" textLength="26.5" lengthAdjust="spacingAndGlyphs">2024</text>
<text x="980" y="589.6" textLength="26.7" lengthAdjust="spacingAndGlyphs">2025</text>
</g>

<!-- legend -->
<g font-size="11">
<rect x="72.5" y="633" width="25" height="2" fill="#111"/>
<text x="103.8" y="637.8" fill="#222" textLength="51" lengthAdjust="spacingAndGlyphs">BTC Price</text>
<rect x="164" y="633" width="27" height="2" fill="#eff0d4"/>
<text x="194.6" y="637.8" fill="#aaa" textLength="78" lengthAdjust="spacingAndGlyphs">CDD (90dma)</text>
<rect x="283" y="633" width="25" height="2" fill="#d9d9d9"/>
<text x="312" y="637.8" fill="#222" textLength="78.4" lengthAdjust="spacingAndGlyphs">CDD (30dma)</text>
<rect x="401" y="633" width="24" height="2" fill="#eff0d4"/>
<text x="428.8" y="637.8" fill="#aaa" textLength="88.7" lengthAdjust="spacingAndGlyphs">CDD (raw data)</text>
</g>
<text x="1007.5" y="669.5" font-size="12.5" fill="#444" textLength="171" lengthAdjust="spacingAndGlyphs">© 2025 Bitcoin Magazine Pro.</text>

<!-- annotation -->
<g id="annot">
<rect x="266" y="53" width="504" height="37" fill="#fdfdfd"/>
<rect x="232" y="89.5" width="576" height="36.5" fill="#fdfdfd"/>
<rect x="224.5" y="126" width="583.5" height="36.5" fill="#fdfdfd"/>
<rect x="288" y="162.5" width="456" height="36.5" fill="#fdfdfd"/>
<g font-size="25.5" fill="#222">
<text x="280.3" y="78.3" textLength="476" lengthAdjust="spacingAndGlyphs">Coin Days Destroyed with a 30dma as</text>
<text x="239" y="114.8" textLength="558" lengthAdjust="spacingAndGlyphs">opposed to a 90dma outlined all major peaks</text>
<text x="238" y="151.1" textLength="558.3" lengthAdjust="spacingAndGlyphs">in this cycle as the data reacted faster to on-</text>
<text x="303" y="187.5" textLength="429.5" lengthAdjust="spacingAndGlyphs">chain supply &amp; demand economics</text>
</g>
</g>
<!-- arrows -->
<g id="arrows">
<line x1="837.0" y1="101.6" x2="1067.2" y2="239.2" stroke="#000" stroke-width="4.3" stroke-linecap="round" stroke-dasharray="0 7.5"/>
<polygon points="1068.0,231.5 1060.5,243.3 1073.0,242.8" fill="#000" stroke="#000" stroke-width="1" stroke-linejoin="round"/>
<line x1="821.1" y1="147.9" x2="970.7" y2="281.4" stroke="#000" stroke-width="4.3" stroke-linecap="round" stroke-dasharray="0 7.5"/>
<polygon points="973.0,272.8 963.2,285.5 976.0,285.8" fill="#000" stroke="#000" stroke-width="1" stroke-linejoin="round"/>
<line x1="773.9" y1="181.9" x2="845.8" y2="234.6" stroke="#000" stroke-width="4.3" stroke-linecap="round" stroke-dasharray="0 7.5"/>
<polygon points="847.0,226.3 838.6,238.6 851.8,239.0" fill="#000" stroke="#000" stroke-width="1" stroke-linejoin="round"/>
</g>
</svg>
</body></html>
